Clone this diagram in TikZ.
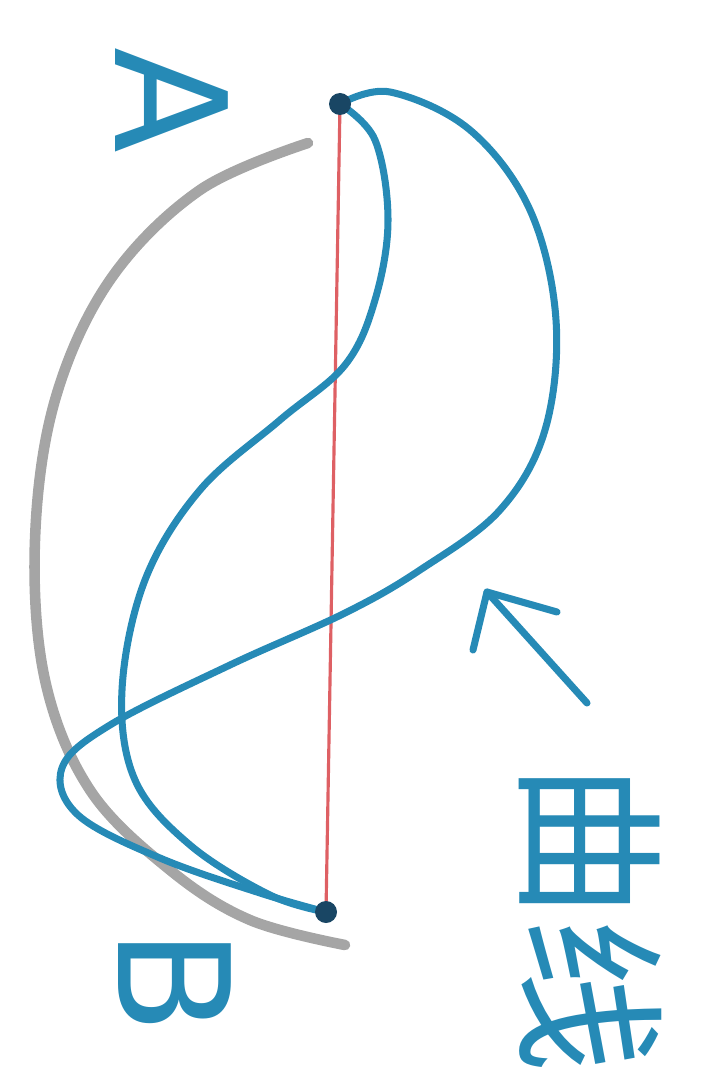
\documentclass[tikz,border=0pt]{standalone}
\usepackage{fontspec}
\setmainfont{DejaVu Sans}
\newfontfamily\cjk{Noto Sans CJK SC}
\definecolor{ink}{RGB}{38,138,182}
\definecolor{pencil}{RGB}{165,165,165}
\definecolor{redpen}{RGB}{222,96,100}
\definecolor{dotink}{RGB}{25,70,100}
\tikzset{
    curve/.style={ink, line width=2pt, line cap=round, line join=round},
    label/.style={ink, font=\fontsize{44}{44}\selectfont, rotate=-90}
}
\begin{document}
\begin{tikzpicture}[x=0.01cm, y=-0.01cm]
    \useasboundingbox (0,0) rectangle (704,1079);
    \coordinate (A) at (340,104);
    \coordinate (B) at (326,912);
    % gray arc
    \draw[pencil, line width=3pt, line cap=round] plot[smooth, tension=0.6]
        coordinates {(308,143) (200,190) (110,280) (55,400) (35,540) (45,680) (90,790) (170,870) (250,920) (345,945)};
    % straight line
    \draw[redpen, line width=0.9pt] (A) -- (B);
    % curves
    \draw[curve] plot[smooth, tension=0.6]
        coordinates {(A) (390,92) (470,130) (530,210) (556,320) (545,430) (500,510) (420,570) (345,613) (230,665) (110,725) (62,768) (78,815) (160,858) (260,893) (B)};
    \draw[curve] plot[smooth, tension=0.6]
        coordinates {(A) (375,140) (388,220) (375,300) (345,365) (280,420) (200,490) (145,580) (122,690) (135,780) (190,845) (270,895) (B)};
    \fill[dotink] (A) circle (11);
    \fill[dotink] (B) circle (11);
    % labels
    \node[label] (la) at (172,100) {A};
    \node[label] (lb) at (175,982) {B};
    \coordinate (tip) at (487,592);
    \draw[curve] (587,703) -- (tip);
    \draw[curve] (473,650) -- (tip) -- (557,612);
    \node[ink, rotate=-90, font=\cjk\fontsize{44}{44}\selectfont] (name) at (590,918) {曲线};
\end{tikzpicture}
\end{document}
